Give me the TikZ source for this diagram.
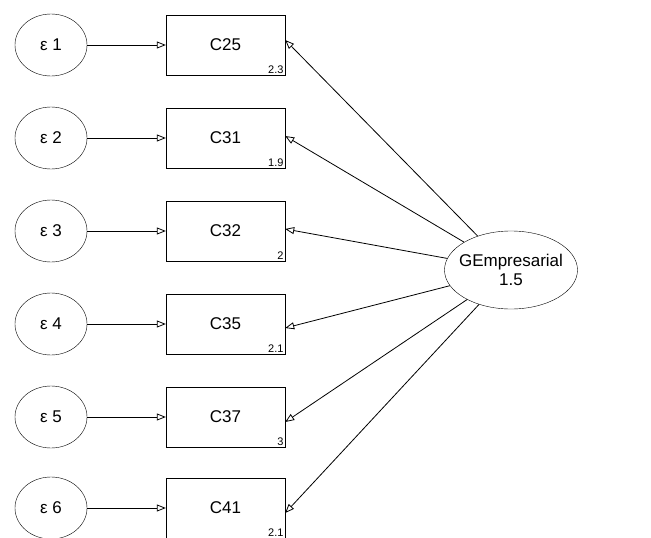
\documentclass[tikz,border=0pt]{standalone}
\usepackage{fontspec}
\setmainfont{Liberation Sans}
\usetikzlibrary{arrows.meta,shapes.geometric}
\begin{document}
\begin{tikzpicture}[x=1pt,y=-1pt,
  errnode/.style={draw,ellipse,minimum width=72pt,minimum height=62pt,inner sep=0pt,font=\fontsize{17}{17}\selectfont},
  obsbox/.style={draw,rectangle,minimum width=119pt,minimum height=60pt,inner sep=0pt,font=\fontsize{17}{17}\selectfont},
  latnode/.style={draw,ellipse,minimum width=133pt,minimum height=78pt,inner xsep=-14pt,inner ysep=0pt,align=center,font=\fontsize{17}{19}\selectfont},
  small/.style={font=\fontsize{11}{11}\selectfont,anchor=south east,inner sep=1.5pt},
  arr/.style={-{Triangle[open,length=9pt,width=7pt]},line width=0.8pt}]
\useasboundingbox (0,0) rectangle (651,538);
\foreach \i/\c/\v/\y in {1/C25/2.3/45,2/C31/1.9/138,3/C32/2/231,4/C35/2.1/324,5/C37/3/417,6/C41/2.1/508}{
  \node[errnode] (e\i) at (51,\y) {ε \i};
  \node[obsbox] (b\i) at (225.5,\y) {\c};
  \node[small] (v\i) at (b\i.south east) {\v};
  \draw[arr] (e\i) -- (b\i);
}
\node[latnode] (g) at (511,270) {GEmpresarial\\1.5};
\foreach \i/\dy in {1/5,2/2,3/2,4/-4,5/-5,6/-5}{
  \draw[arr] (g) -- ([yshift=\dy pt]b\i.east);
}
\end{tikzpicture}
\end{document}
